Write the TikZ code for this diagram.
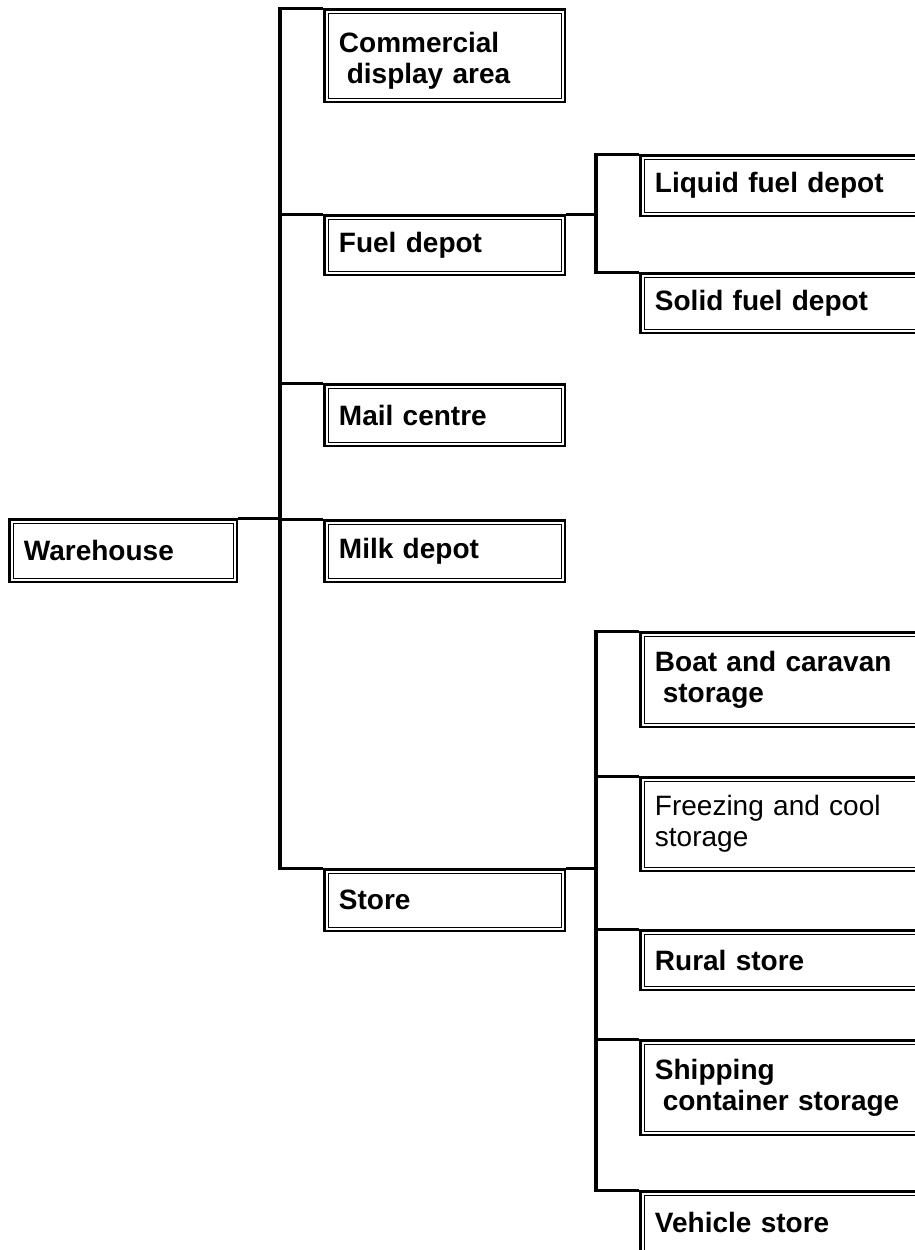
\documentclass[tikz,border=0pt]{standalone}
\usepackage{fontspec}
\setmainfont{Liberation Sans}
\usetikzlibrary{backgrounds}
\begin{document}
\begin{tikzpicture}[x=1pt,y=-1pt,
  box/.style={draw=black, fill=white, line width=2.4pt,
    anchor=north west, inner ysep=0pt, inner xsep=14.5pt, align=left,
    font=\fontsize{28}{31}\selectfont\bfseries,
    path picture={\draw[line width=1.1pt]
      ([shift={(3.8pt,-3.8pt)}]path picture bounding box.north west) rectangle
      ([shift={(-3.8pt,3.8pt)}]path picture bounding box.south east);}},
  lvtwo/.style={box, text width=211.5pt},
  lvthree/.style={box, text width=294pt},
  conn/.style={draw=black, line width=3.5pt}]
\useasboundingbox (0,0) rectangle (915,1250);
\clip (0,0) rectangle (915,1250);
% root
\node[box, text width=198.5pt, minimum height=62.5pt] (wh) at (8.25,518.25) {Warehouse};
% level 2
\node[lvtwo, minimum height=92.5pt] (cda) at (323.25,8.25) {\rule{0pt}{30.4pt}Commercial\\\hspace*{0.28em}display area};
\node[lvtwo, minimum height=59.5pt] (fuel) at (323.25,214.25) {Fuel depot};
\node[lvtwo, minimum height=61.5pt] (mail) at (323.25,383.25) {Mail centre};
\node[lvtwo, minimum height=61.5pt] (milk) at (323.25,519.25) {Milk depot};
\node[lvtwo, minimum height=61.5pt] (store) at (323.25,868.25) {Store};
% level 3 (fuel)
\node[lvthree, minimum height=60.5pt] (liquid) at (639.25,154.25) {Liquid fuel depot};
\node[lvthree, minimum height=59.5pt] (solid) at (639.25,272.25) {Solid fuel depot};
% level 3 (store)
\node[lvthree, minimum height=94.5pt] (boat) at (639.25,631.25) {Boat and caravan\\\hspace*{0.28em}storage};
\node[lvthree, minimum height=93.5pt] (freeze) at (639.25,776.25) {\mdseries Freezing and cool\\storage};
\node[lvthree, minimum height=59.5pt] (rural) at (639.25,929.25) {Rural store};
\node[lvthree, minimum height=94.5pt] (ship) at (639.25,1039.25) {Shipping\\\hspace*{0.28em}container storage};
\node[lvthree, minimum height=63pt] (vehicle) at (639.25,1190.25) {Vehicle store};
% trunk coordinates
\coordinate (t) at (280,0);
\coordinate (f) at (596,0);
\coordinate (s) at (596,0);
\begin{scope}[on background layer]
  \draw[conn] (wh.north east) -- (wh.north east -| t);
  \draw[conn] (cda.north west) -| (t |- store.north west) -- (store.north west);
  \draw[conn] (t |- fuel.north west) -- (fuel.north west);
  \draw[conn] (t |- mail.north west) -- (mail.north west);
  \draw[conn] (t |- milk.north west) -- (milk.north west);
  \draw[conn] (fuel.north east) -- (fuel.north east -| f);
  \draw[conn] (liquid.north west) -| (f |- solid.north west) -- (solid.north west);
  \draw[conn] (store.north east) -- (store.north east -| s);
  \draw[conn] (boat.north west) -| (s |- vehicle.north west) -- (vehicle.north west);
  \draw[conn] (s |- freeze.north west) -- (freeze.north west);
  \draw[conn] (s |- rural.north west) -- (rural.north west);
  \draw[conn] (s |- ship.north west) -- (ship.north west);
\end{scope}
\end{tikzpicture}
\end{document}
